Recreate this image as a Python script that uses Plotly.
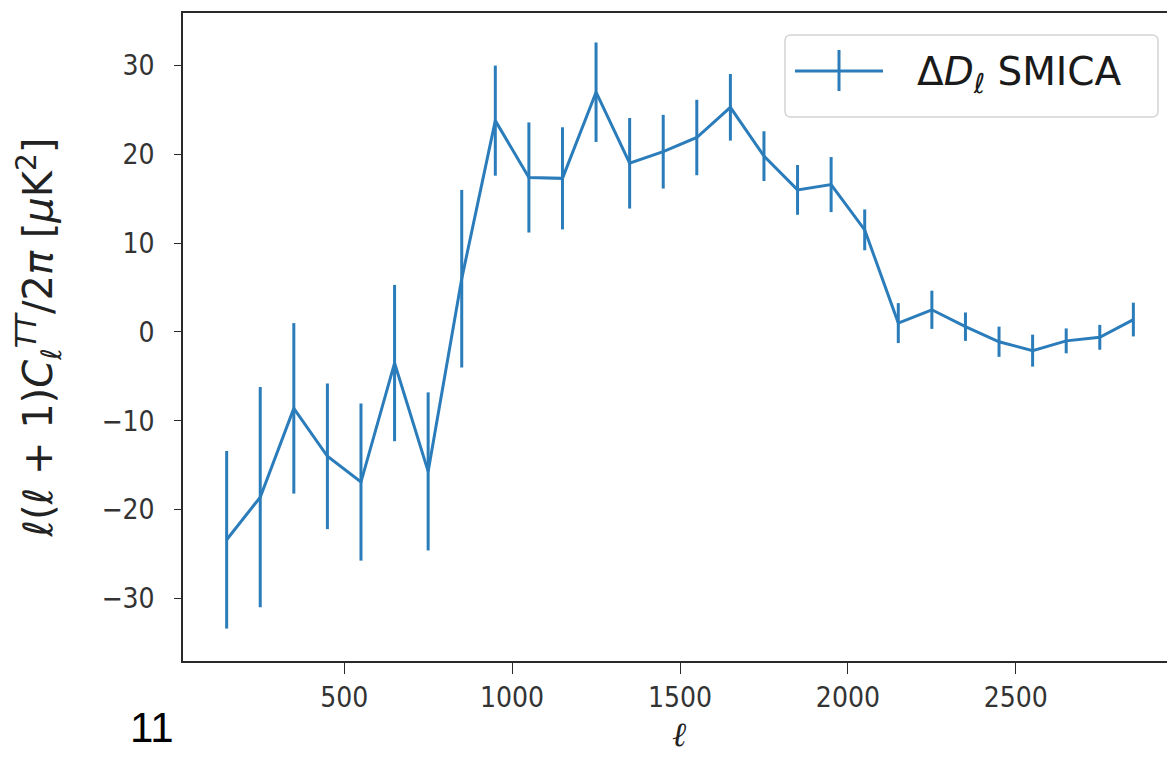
import plotly.graph_objects as go

# ---- data ----
ell = [150, 250, 350, 450, 550, 650, 750, 850, 950, 1050, 1150, 1250, 1350, 1450,
       1550, 1650, 1750, 1850, 1950, 2050, 2150, 2250, 2350, 2450, 2550, 2650, 2750, 2850]
delta_D = [-23.4, -18.6, -8.6, -14.0, -16.9, -3.5, -15.7, 6.0, 23.8, 17.4, 17.3, 27.0,
           19.0, 20.3, 21.9, 25.3, 19.8, 16.0, 16.6, 11.5, 1.0, 2.5, 0.6, -1.1, -2.1,
           -1.0, -0.6, 1.4]
delta_err = [10.0, 12.4, 9.6, 8.2, 8.85, 8.8, 8.9, 10.0, 6.2, 6.2, 5.75, 5.6, 5.1, 4.15,
             4.25, 3.75, 2.8, 2.8, 3.1, 2.3, 2.25, 2.15, 1.6, 1.7, 1.8, 1.4, 1.4, 1.9]
x_ticks = [500, 1000, 1500, 2000, 2500]
y_ticks = [-30, -20, -10, 0, 10, 20, 30]
series_name = "Δ<i>D</i><sub><i>ℓ</i></sub> SMICA"

# page has an 8px body margin; work in page pixels
OFF = 8
PAGE_W, PAGE_H = 1175, 760
W, H = PAGE_W - OFF, PAGE_H - OFF
PL, PR, PT, PB = 183, 1175, 13, 661       # plot area in page pixels
ML, MR, MT, MB = PL - OFF, 0, PT - OFF, H - (PB - OFF)
BLUE = "rgb(42,124,186)"
AX = "#2a2a2a"
TICKFONT = "DejaVu Sans Condensed, DejaVu Sans, sans-serif"


def xp(px):
    return (px - PL) / (PR - PL)


def yp(py):
    return (PB - py) / (PB - PT)


fig = go.Figure()
fig.add_trace(go.Scatter(
    x=ell, y=delta_D, mode="lines", name=series_name, showlegend=False,
    line=dict(color=BLUE, width=3),
    error_y=dict(type="data", array=delta_err, visible=True, width=0,
                 thickness=3, color=BLUE),
))

# manual legend (matplotlib style box)
bx0, bx1, by0, by1, r = 785, 1158, 35, 117, 6
rx = r / (PR - PL)
ry = r / (PB - PT)
X0, X1, Y0, Y1 = xp(bx0), xp(bx1), yp(by1), yp(by0)
path = (f"M{X0+rx},{Y0} L{X1-rx},{Y0} Q{X1},{Y0} {X1},{Y0+ry} "
        f"L{X1},{Y1-ry} Q{X1},{Y1} {X1-rx},{Y1} L{X0+rx},{Y1} Q{X0},{Y1} {X0},{Y1-ry} "
        f"L{X0},{Y0+ry} Q{X0},{Y0} {X0+rx},{Y0} Z")
fig.add_shape(type="path", path=path, xref="paper", yref="paper",
              line=dict(color="#d4d4d4", width=1.5), fillcolor="rgba(255,255,255,0.85)")
fig.add_shape(type="line", xref="paper", yref="paper", x0=xp(795), x1=xp(883),
              y0=yp(71), y1=yp(71), line=dict(color=BLUE, width=3))
fig.add_shape(type="line", xref="paper", yref="paper", x0=xp(839), x1=xp(839),
              y0=yp(50), y1=yp(91), line=dict(color=BLUE, width=3))
fig.add_annotation(x=xp(915), y=yp(74), xref="paper", yref="paper", text=series_name,
                   showarrow=False, xanchor="left", yanchor="middle",
                   font=dict(family="DejaVu Sans", size=39, color="#1a1a1a"))

# page number artefact
fig.add_annotation(x=xp(152), y=yp(728), xref="paper", yref="paper", text="11",
                   showarrow=False, xanchor="center", yanchor="middle",
                   font=dict(family="Liberation Sans, Arial, sans-serif", size=42, color="#000"))

fig.update_layout(
    width=W, height=H,
    margin=dict(l=ML, r=MR, t=MT, b=MB, pad=0),
    paper_bgcolor="white", plot_bgcolor="white",
    showlegend=False,
)
fig.update_xaxes(
    range=[20, 2974], tickvals=x_ticks, ticktext=[str(v) for v in x_ticks],
    showgrid=False, zeroline=False, showline=True, linecolor=AX, linewidth=1.6,
    mirror=True, ticks="outside", ticklen=11, tickwidth=1.4, tickcolor=AX,
    tickfont=dict(family=TICKFONT, size=28, color="#333"),
    title=dict(text="<i>ℓ</i>", standoff=4,
               font=dict(family="DejaVu Serif, serif", size=34, color="#222")),
)
fig.update_yaxes(
    range=[-37.05, 35.92], tickvals=y_ticks,
    ticktext=[("−" + str(-v)) if v < 0 else str(v) for v in y_ticks],
    showgrid=False, zeroline=False, showline=True, linecolor=AX, linewidth=1.6,
    mirror=False, ticks="outside", ticklen=7, tickwidth=1.4, tickcolor=AX,
    tickfont=dict(family=TICKFONT, size=28, color="#333"),
    ticklabelstandoff=14,
    title=dict(text="<i>ℓ</i>(<i>ℓ</i> + 1)<i>C</i><sub><i>ℓ</i></sub><sup><i>TT</i></sup>/2<i>π</i> [<i>μ</i>K<sup>2</sup>]",
               standoff=36,
               font=dict(family="DejaVu Sans", size=40, color="#222")),
)

fig.write_html("out.html")
